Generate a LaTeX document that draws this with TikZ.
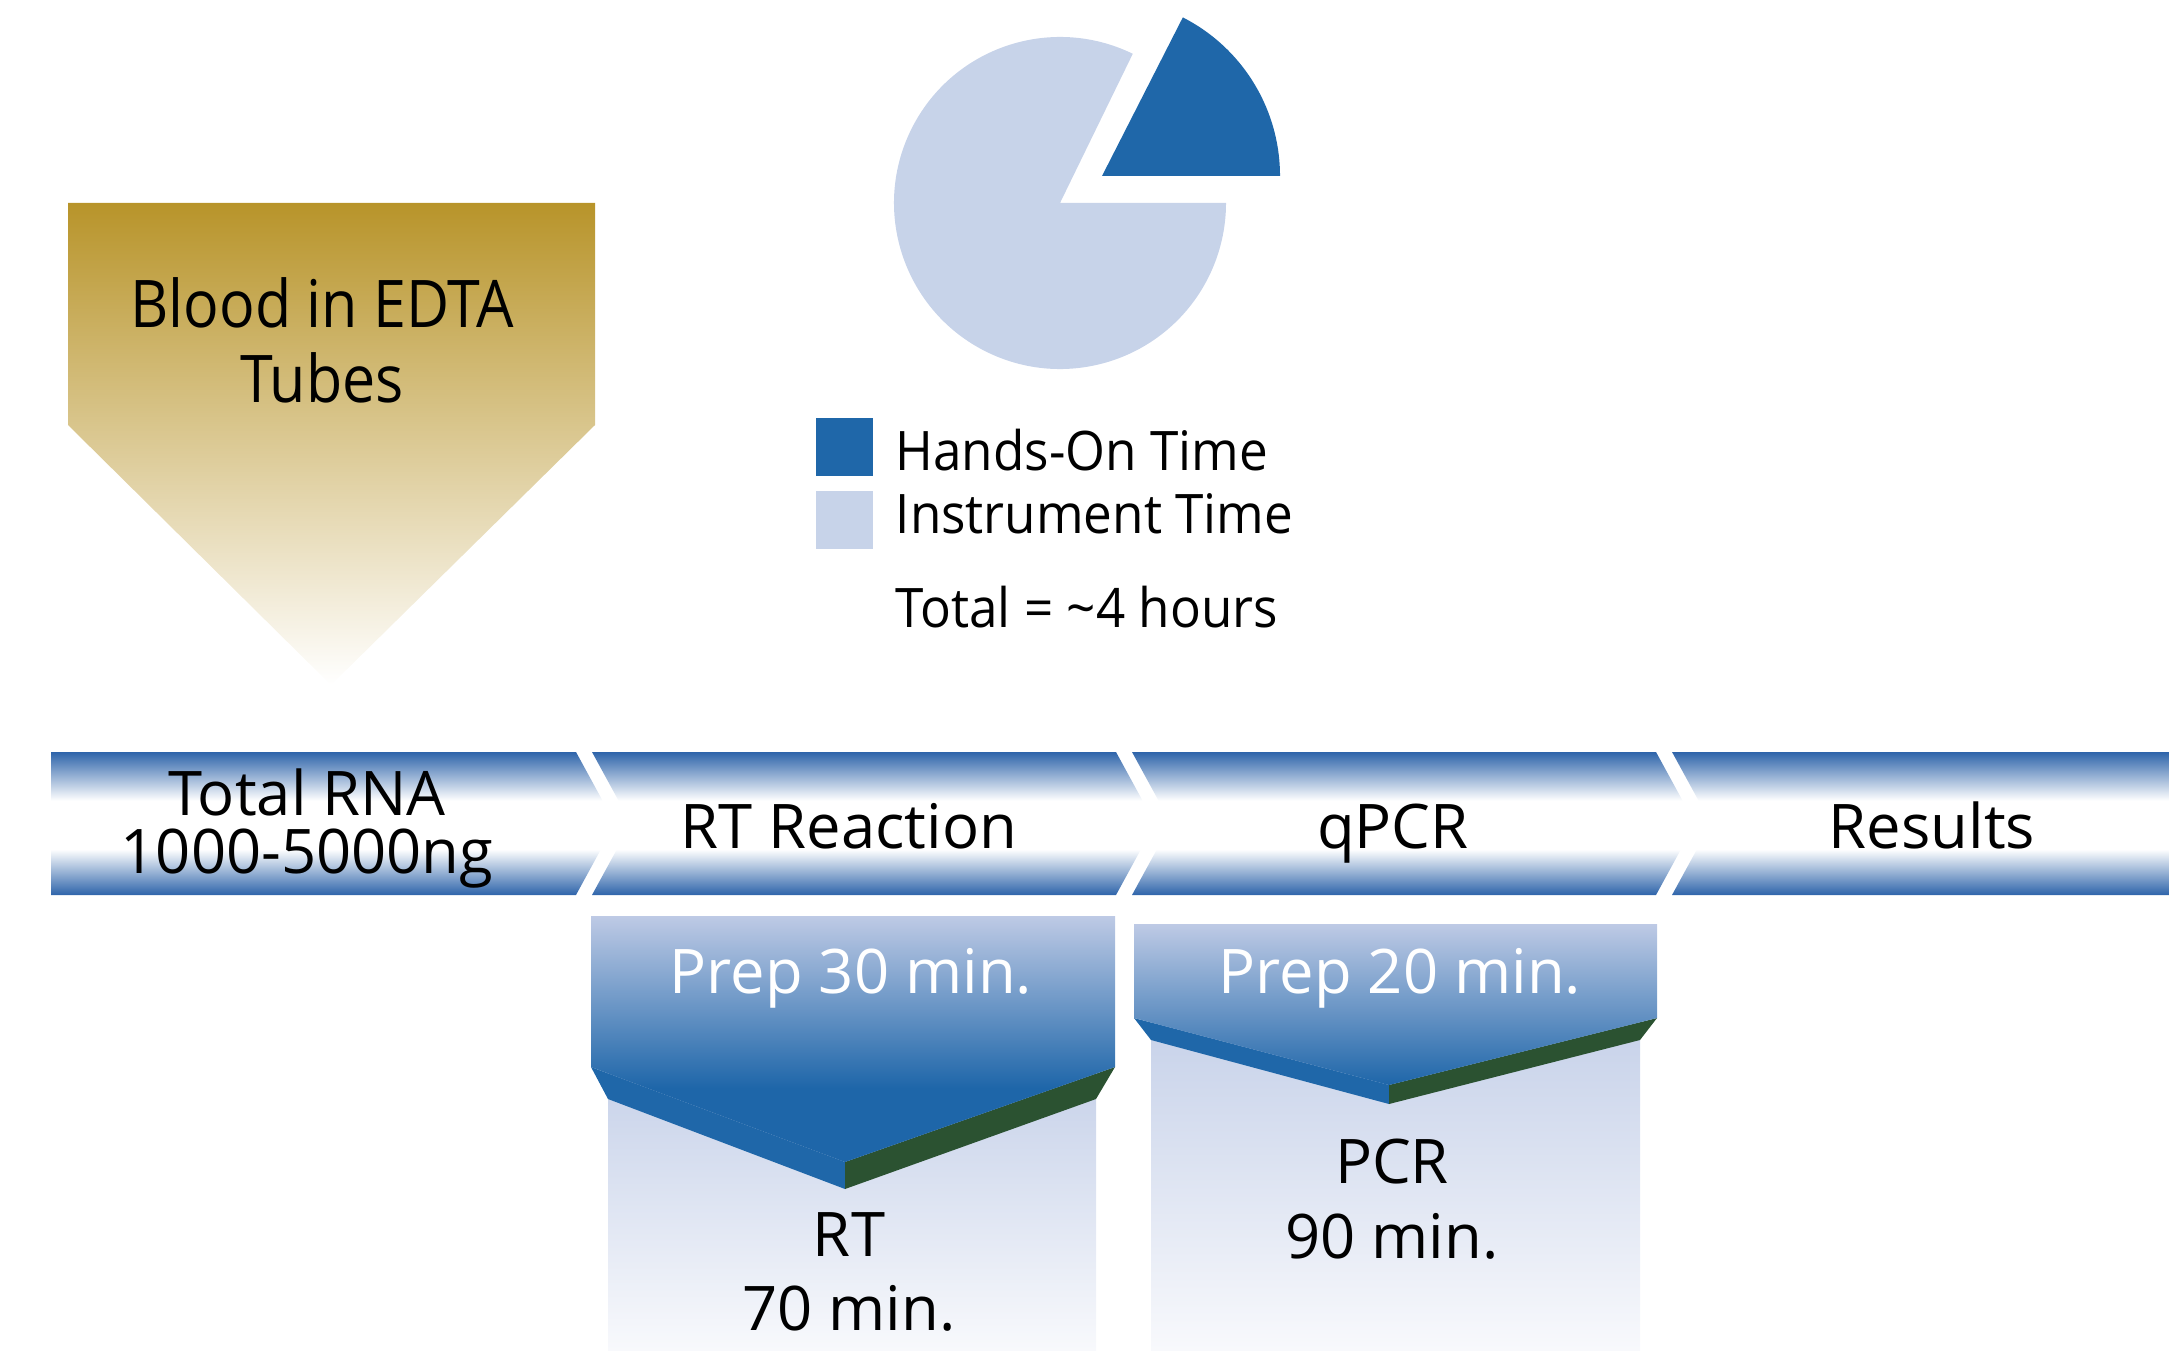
\documentclass[tikz,border=0pt]{standalone}
\usepackage{fontspec}
\setmainfont{Open Sans}
\newfontfamily\legfont[FakeStretch=0.94]{Open Sans}
\newfontfamily\bloodfont[FakeStretch=0.9]{Open Sans}
\usetikzlibrary{positioning}
\usepackage{xcolor}
\definecolor{barblue}{RGB}{46,100,170}
\definecolor{handsblue}{RGB}{31,103,169}
\definecolor{instlight}{RGB}{199,211,233}
\definecolor{preptop}{RGB}{190,202,229}
\definecolor{prepbot}{RGB}{30,102,169}
\definecolor{bevelgreen}{RGB}{43,82,49}
\definecolor{bgtop}{RGB}{198,209,233}
\definecolor{bgbot}{RGB}{248,249,252}
\definecolor{gold}{RGB}{184,148,42}
% the path box is mapped onto 25bp..75bp of these
\pgfdeclareverticalshading{barshade}{100bp}{color(0bp)=(barblue); color(25bp)=(barblue); color(41bp)=(white); color(58bp)=(white); color(75bp)=(barblue); color(100bp)=(barblue)}
\pgfdeclareverticalshading{faceshade}{100bp}{color(0bp)=(prepbot); color(40bp)=(prepbot); color(75bp)=(preptop); color(100bp)=(preptop)}

\begin{document}
\begin{tikzpicture}[
      seg/.style    = {shading=barshade},
      lbl/.style    = {font=\fontsize{17.5}{21.3}\selectfont, align=center},
      prep/.style   = {font=\fontsize{17.5}{21}\selectfont, text=white, anchor=base},
      face/.style   = {top color=preptop, bottom color=prepbot},
      bgbox/.style  = {top color=bgtop, bottom color=bgbot},
      legsq/.style  = {minimum width=0.57cm, minimum height=0.58cm, inner sep=0pt},
      legtxt/.style = {font=\legfont\fontsize{15.5}{18}\selectfont, anchor=base west, inner sep=0pt}
    ]
    \useasboundingbox (0,0) rectangle (21.69,13.5);

    % pie chart
    \coordinate (pc) at (10.60,11.47);
    \fill[instlight] (pc) -- ++(64:1.66) arc[start angle=64, end angle=360, radius=1.66] -- cycle;
    \fill[handsblue] ([shift={(0.42,0.27)}]pc) -- ++(0:1.78) arc[start angle=0, end angle=63, radius=1.78] -- cycle;

    % legend
    \node[legsq, fill=handsblue]                      (handsq) at (8.445,9.03) {};
    \node[legsq, fill=instlight, below=0.14cm of handsq] (instsq) {};
    \node[legtxt] (handstxt) at (8.95,8.80) {Hands-On Time};
    \node[legtxt] (insttxt)  at (8.95,8.17) {Instrument Time};
    \node[legtxt] (total)    at (8.95,7.23) {Total = \textasciitilde4 hours};

    % sample arrow
    \shade[top color=gold, bottom color=white]
      (0.68,11.47) -- (5.95,11.47) -- (5.95,9.25) -- (3.31,6.65) -- (0.68,9.25) -- cycle;
    \node[font=\bloodfont\fontsize{18.7}{21.3}\selectfont, align=center] (blood) at (3.22,10.10) {Blood in EDTA\\Tubes};

    % process bar
    \shade[seg] (0.51,5.98) -- (5.76,5.98) -- (6.15,5.265) -- (5.76,4.55) -- (0.51,4.55) -- cycle;
    \foreach \dx in {0,5.40}
      \shade[seg, xshift=\dx cm] (5.92,5.98) -- (11.16,5.98) -- (11.55,5.265)
                                 -- (11.16,4.55) -- (5.92,4.55) -- (6.31,5.265) -- cycle;
    \shade[seg] (16.72,5.98) -- (21.69,5.98) -- (21.69,4.55) -- (16.72,4.55) -- (17.11,5.265) -- cycle;

    \node[font=\fontsize{17.5}{16.5}\selectfont, align=center] (rna) at (3.07,5.21) {Total RNA\\1000-5000ng};
    \node[lbl, anchor=base] (rtr)     at (8.49,5.02)  {RT Reaction};
    \node[lbl, anchor=base] (qpcr)    at (13.93,5.02) {qPCR};
    \node[lbl, anchor=base] (results) at (19.32,5.02) {Results};

    % RT step
    \shade[bgbox] (6.08,0) rectangle (10.96,2.83);
    \fill[handsblue]  (5.91,2.83) -- (8.45,1.88) -- (8.45,1.61) -- (6.08,2.51) -- cycle;
    \fill[bevelgreen] (8.45,1.88) -- (11.15,2.83) -- (10.96,2.51) -- (8.45,1.61) -- cycle;
    \shade[shading=faceshade] (5.91,4.34) -- (11.15,4.34) -- (11.15,2.83) -- (8.45,1.88) -- (5.91,2.83) -- cycle;

    % PCR step
    \shade[bgbox] (11.51,0) rectangle (16.40,3.32);
    \fill[handsblue]  (11.34,3.32) -- (13.89,2.65) -- (13.89,2.46) -- (11.51,3.10) -- cycle;
    \fill[bevelgreen] (13.89,2.65) -- (16.57,3.32) -- (16.40,3.10) -- (13.89,2.46) -- cycle;
    \shade[face] (11.34,4.26) -- (16.57,4.26) -- (16.57,3.32) -- (13.89,2.65) -- (11.34,3.32) -- cycle;

    \node[prep] (prep30) at (8.51,3.57)  {Prep 30 min.};
    \node[prep] (prep20) at (14.00,3.57) {Prep 20 min.};
    \node[lbl] (rt)  at (8.49,0.78)  {RT\\70 min.};
    \node[lbl] (pcr) at (13.92,1.51) {PCR\\90 min.};
  \end{tikzpicture}
\end{document}
